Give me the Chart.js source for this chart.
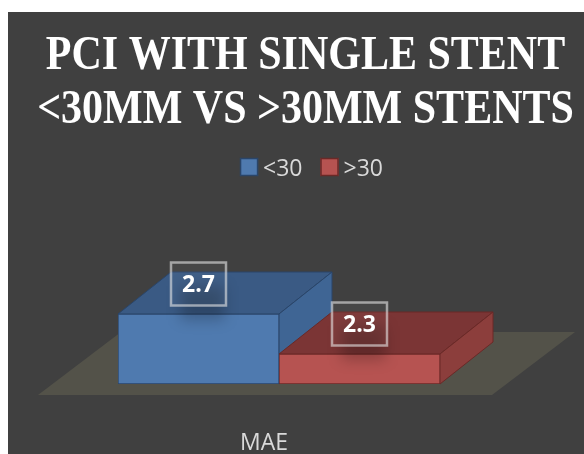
<!DOCTYPE html>
<html>
<head>
<meta charset="utf-8">
<script src="https://cdn.jsdelivr.net/npm/chart.js@4.4.1/dist/chart.umd.min.js"></script>
<style>
  html, body { margin: 0; padding: 0; background: #ffffff; overflow: hidden; width: 584px; height: 454px; }
  #wrap { position: absolute; left: 8px; top: 12px; width: 596px; height: 442px; background: #404040; }
  canvas { display: block; }
</style>
</head>
<body>
<div id="wrap"><canvas id="c" width="596" height="442"></canvas></div>
<script>
// ---- data ----
const categories = ['MAE'];
const seriesNames = ['<30', '>30'];
const under30 = [2.7];
const over30 = [2.3];
const titleLines = ['PCI WITH SINGLE STENT', '<30MM VS >30MM STENTS'];
const valueMin = 2;
const valueMax = 3;

// ---- styling ----
const palettes = [
  { front: '#4F7AAF', top: '#3A5A84', side: '#3F6594', edge: '#2A4569' },
  { front: '#B65351', top: '#7B3535', side: '#8C3E3C', edge: '#6A2927' }
];
const DEPTH = { dx: 53, dy: -42 };
const FLOOR = { color: '#535249', front: 11, back: -52, leftFront: -80, rightFront: 52, shift: 83 };
const TEXT_COLOR = '#D9D9D9';
const SANS = "'Open Sans', 'DejaVu Sans', sans-serif";

function poly(ctx, pts, fill, stroke) {
  ctx.beginPath();
  ctx.moveTo(pts[0][0], pts[0][1]);
  for (let i = 1; i < pts.length; i++) ctx.lineTo(pts[i][0], pts[i][1]);
  ctx.closePath();
  ctx.fillStyle = fill;
  ctx.fill();
  if (stroke) {
    ctx.strokeStyle = stroke;
    ctx.lineWidth = 1;
    ctx.stroke();
  }
}

// floor plane plus the top and side faces of every bar (front faces are the native bars)
const box3d = {
  id: 'box3d',
  beforeDatasetsDraw(chart) {
    const ctx = chart.ctx;
    const area = chart.chartArea;
    const base = chart.scales.y.getPixelForValue(valueMin);
    ctx.save();
    const fy = base + FLOOR.front, by = base + FLOOR.back;
    const fl = area.left + FLOOR.leftFront, fr = area.right + FLOOR.rightFront;
    poly(ctx, [[fl, fy], [fr, fy], [fr + FLOOR.shift, by], [fl + FLOOR.shift, by]], FLOOR.color);

    chart.data.datasets.forEach((ds, i) => {
      const pal = palettes[i];
      chart.getDatasetMeta(i).data.forEach(el => {
        const l = el.x - el.width / 2, r = el.x + el.width / 2;
        const t = el.y, b = Math.min(el.base, base);
        const dx = DEPTH.dx, dy = DEPTH.dy;
        poly(ctx, [[l, t], [r, t], [r + dx, t + dy], [l + dx, t + dy]], pal.top, pal.edge);
        poly(ctx, [[r, t], [r, b], [r + dx, b + dy], [r + dx, t + dy]], pal.side, pal.edge);
      });
    });
    ctx.restore();
  },
  afterDatasetsDraw(chart) {
    const ctx = chart.ctx;
    ctx.save();
    chart.data.datasets.forEach((ds, i) => {
      chart.getDatasetMeta(i).data.forEach((el, j) => {
        const cx = el.x, cy = el.y - 30;
        const w = 55, h = 43;
        // soft shade under the value box
        ctx.save();
        ctx.filter = 'blur(7px)';
        ctx.fillStyle = 'rgba(0,0,0,0.22)';
        ctx.fillRect(cx - 18, cy + 2, 44, 34);
        ctx.restore();
        ctx.fillStyle = 'rgba(255,255,255,0.04)';
        ctx.fillRect(cx - w / 2, cy - h / 2, w, h);
        ctx.strokeStyle = 'rgba(230,230,230,0.6)';
        ctx.lineWidth = 2.5;
        ctx.strokeRect(cx - w / 2, cy - h / 2, w, h);
        ctx.fillStyle = '#FFFFFF';
        ctx.font = "bold 23px " + SANS;
        ctx.textAlign = 'center';
        ctx.textBaseline = 'middle';
        ctx.fillText(Number(ds.data[j]).toFixed(1), cx, cy + 1);
      });
    });
    ctx.restore();
  },
  afterDraw(chart) {
    const ctx = chart.ctx;
    ctx.save();
    // title
    ctx.fillStyle = '#FFFFFF';
    ctx.font = "bold 42px 'Liberation Serif', 'Times New Roman', serif";
    ctx.textAlign = 'center';
    ctx.textBaseline = 'alphabetic';
    const baselines = [57, 111];
    titleLines.forEach((line, k) => {
      ctx.save();
      ctx.translate(297.5, baselines[k]);
      ctx.scale(1, 1.14);
      ctx.fillText(line, 0, 0);
      ctx.restore();
    });
    // legend
    ctx.font = "23px " + SANS;
    ctx.textAlign = 'left';
    const box = 18, gap = 5, spacing = 18;
    const widths = seriesNames.map(n => ctx.measureText(n).width);
    let total = 0;
    widths.forEach((w, k) => { total += box + gap + w + (k ? spacing : 0); });
    let x = 303.5 - total / 2;
    const boxTop = 146, baseY = 164;
    seriesNames.forEach((n, k) => {
      ctx.fillStyle = palettes[k].front;
      ctx.fillRect(x, boxTop, box, box);
      ctx.strokeStyle = palettes[k].edge;
      ctx.lineWidth = 1.5;
      ctx.strokeRect(x + 0.5, boxTop + 0.5, box - 1, box - 1);
      ctx.fillStyle = TEXT_COLOR;
      ctx.fillText(n, x + box + gap, baseY);
      x += box + gap + widths[k] + spacing;
    });
    ctx.restore();
  }
};

new Chart(document.getElementById('c'), {
  type: 'bar',
  data: {
    labels: categories,
    datasets: [
      { label: seriesNames[0], data: under30, base: valueMin, backgroundColor: palettes[0].front, borderColor: palettes[0].edge },
      { label: seriesNames[1], data: over30, base: valueMin, backgroundColor: palettes[1].front, borderColor: palettes[1].edge }
    ]
  },
  options: {
    responsive: false,
    devicePixelRatio: 1,
    animation: false,
    layout: { padding: { top: 272, left: 110, right: 164, bottom: 0 } },
    datasets: { bar: { barPercentage: 1, categoryPercentage: 1, borderWidth: 1, borderSkipped: false } },
    plugins: { legend: { display: false }, title: { display: false }, tooltip: { enabled: false } },
    scales: {
      y: { display: false, min: valueMin, max: valueMax },
      x: {
        grid: { display: false },
        border: { display: false },
        ticks: { color: TEXT_COLOR, font: { family: SANS, size: 23 }, padding: 38, labelOffset: -15 },
        afterFit(scale) { scale.height = 70; }
      }
    }
  },
  plugins: [box3d]
});
</script>
</body>
</html>
